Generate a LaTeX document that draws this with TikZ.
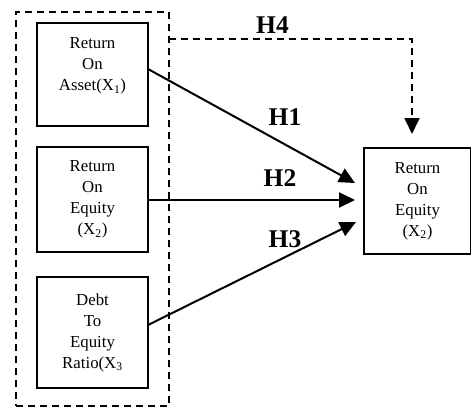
\documentclass[tikz,border=0pt]{standalone}
\usepackage{fontspec}
\setmainfont{Liberation Serif}
\usetikzlibrary{arrows.meta}
\begin{document}
\begin{tikzpicture}[x=1pt,y=-1pt,
  varbox/.style={draw=black, line width=1.4pt, minimum width=111pt, align=center, inner sep=0pt,
    font=\fontsize{16.8}{21}\selectfont},
  grpbox/.style={draw=black, line width=1.6pt, dash pattern=on 7pt off 5pt, inner sep=0pt},
  hlabel/.style={font=\fontsize{25.5}{30}\selectfont\bfseries, inner sep=0pt},
  solidarrow/.style={line width=2pt, -{Triangle[length=16pt,width=15pt]}},
  dasharrow/.style={line width=1.8pt, dash pattern=on 7pt off 5pt, -{Triangle[length=16pt,width=15pt]}}
]
\useasboundingbox (0,0) rectangle (471,408);
\node[grpbox, minimum width=153pt, minimum height=394pt] (grp) at (92.5,209) {};
\node[varbox, minimum height=103pt] (roa) at (92.5,74.5) {Return\\On\\Asset(X\textsubscript{1})\\\mbox{}};
\node[varbox, minimum height=105pt] (roe) at (92.5,199.5) {Return\\On\\Equity\\(X\textsubscript{2})};
\node[varbox, minimum height=111pt] (der) at (92.5,332.5) {Debt\\To\\Equity\\Ratio(X\textsubscript{3}};
\node[varbox, minimum width=107pt, minimum height=106pt] (y) at (417.5,201) {Return\\On\\Equity\\(X\textsubscript{2})};
\coordinate (h4s) at (169,39);
\coordinate (h4c) at (412,39);
\coordinate (h4e) at (412,134);
\coordinate (a1s) at (148,69);
\coordinate (a1e) at (355,183);
\coordinate (a2s) at (148,200);
\coordinate (a2e) at (355,200);
\coordinate (a3s) at (148,325);
\coordinate (a3e) at (356,222);
\draw[dasharrow] (h4s) -- (h4c) -- (h4e);
\draw[solidarrow] (a1s) -- (a1e);
\draw[solidarrow] (a2s) -- (a2e);
\draw[solidarrow] (a3s) -- (a3e);
\node[hlabel] (l4) at (272.5,25) {H4};
\node[hlabel] (l1) at (285,117) {H1};
\node[hlabel] (l2) at (280,178) {H2};
\node[hlabel] (l3) at (285,239) {H3};
\end{tikzpicture}
\end{document}
